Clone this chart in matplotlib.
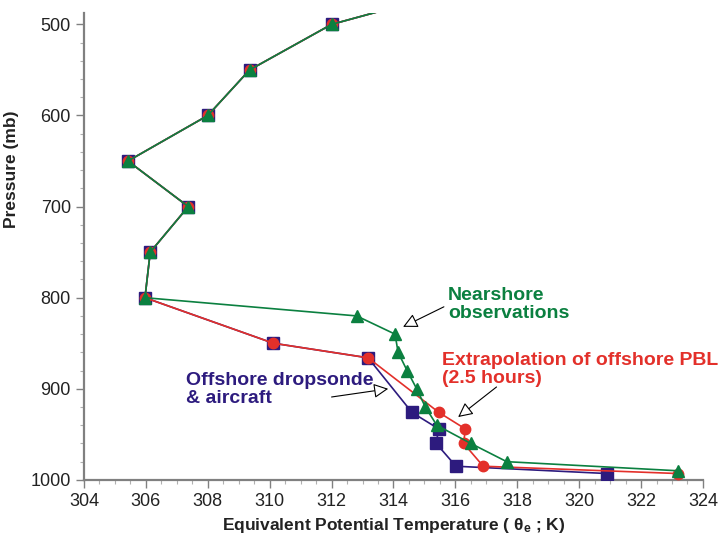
import matplotlib.pyplot as plt
from matplotlib.ticker import MultipleLocator

plt.rcParams['font.family'] = ['Liberation Sans', 'DejaVu Sans']

# Shared upper profile (all three sources agree above 800 mb)
upper_p = [450, 500, 550, 600, 650, 700, 750, 800]
upper_te = [317.4, 312.0, 309.35, 308.0, 305.42, 307.37, 306.14, 305.97]

# Nearshore observations
near_p = upper_p + [820, 840, 860, 880, 900, 920, 940, 960, 980, 990]
near_te = upper_te + [312.81, 314.05, 314.15, 314.44, 314.75, 315.03, 315.40, 316.50, 317.66, 323.20]

# Extrapolation of offshore PBL (2.5 hours)
extrap_p = upper_p + [850, 866, 926, 944, 960, 985, 993]
extrap_te = upper_te + [310.12, 313.18, 315.47, 316.32, 316.27, 316.90, 323.18]

# Offshore dropsonde & aircraft
drop_p = upper_p + [850, 866, 926, 944, 960, 985, 993]
drop_te = upper_te + [310.12, 313.18, 314.60, 315.46, 315.38, 316.02, 320.89]

GREEN = '#0b8040'
RED = '#e3302a'
BLUE = '#2d1b7e'
AXIS_GRAY = '#808080'

fig = plt.figure(figsize=(7.18, 5.38), dpi=100)
ax = fig.add_axes([0.117, 0.108, 0.862, 0.868])

ax.plot(drop_te, drop_p, '-s', color=BLUE, lw=1.2, ms=8, zorder=3)
ax.plot(extrap_te, extrap_p, '-o', color=RED, lw=1.2, ms=7.5, zorder=4)
ax.plot(near_te, near_p, '-^', color=GREEN, lw=1.2, ms=8, zorder=5)

ax.set_xlim(304, 324)
ax.set_ylim(1000, 487.4)
ax.xaxis.set_major_locator(MultipleLocator(2))
ax.xaxis.set_minor_locator(MultipleLocator(0.5))
ax.yaxis.set_major_locator(MultipleLocator(100))
ax.yaxis.set_minor_locator(MultipleLocator(20))

for side in ('top', 'right'):
    ax.spines[side].set_visible(False)
for side in ('left', 'bottom'):
    ax.spines[side].set_color(AXIS_GRAY)
    ax.spines[side].set_linewidth(1.6)
ax.tick_params(which='major', length=6, width=1.0, color=AXIS_GRAY,
               labelsize=13, labelcolor='#222222')
ax.tick_params(which='minor', length=3, width=0.8, color='#b0b0b0')

ax.set_xlabel(r'Equivalent Potential Temperature ( $\mathregular{\theta_e}$ ; K)',
              fontsize=12.5, fontweight='bold', color='#222222', labelpad=4)
ax.set_ylabel('Pressure (mb)', fontsize=12.5, fontweight='bold',
              color='#222222')
ax.yaxis.set_label_coords(-0.105, 0.665)

arrow = dict(arrowstyle='-|>', fc='white', ec='black', lw=0.8,
             mutation_scale=22, shrinkA=0, shrinkB=0)

ax.text(315.76, 807.5, 'Nearshore\nobservations', color=GREEN,
        fontsize=14, fontweight='bold', ha='left', va='center',
        linespacing=1.05)
ax.annotate('', xy=(314.31, 832), xytext=(315.63, 810), arrowprops=arrow)

ax.text(315.57, 879, 'Extrapolation of offshore PBL\n(2.5 hours)', color=RED,
        fontsize=14, fontweight='bold', ha='left', va='center',
        linespacing=1.05)
ax.annotate('', xy=(316.09, 931), xytext=(317.33, 898), arrowprops=arrow)

ax.text(307.30, 901, 'Offshore dropsonde\n& aircraft', color=BLUE,
        fontsize=14, fontweight='bold', ha='left', va='center',
        linespacing=1.05)
ax.annotate('', xy=(313.83, 900), xytext=(312.0, 909), arrowprops=arrow)

fig.savefig('out.png', dpi=100)
